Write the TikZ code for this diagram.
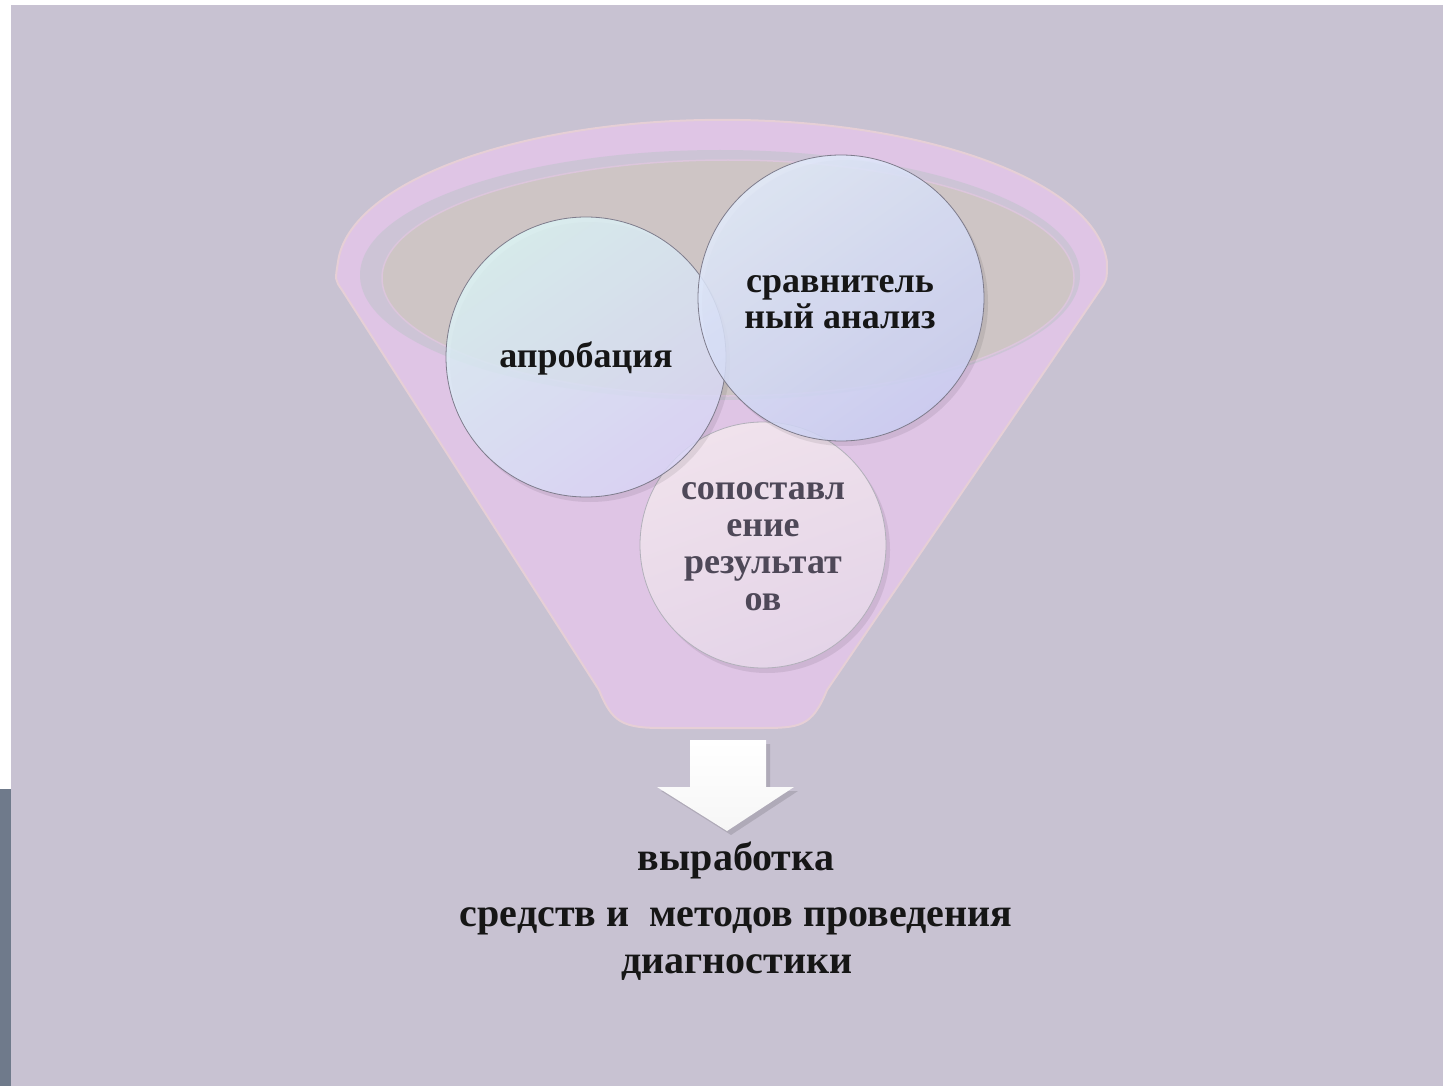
\documentclass[tikz,border=0pt]{standalone}
\usepackage{fontspec}
\setmainfont{Liberation Serif}
\definecolor{bg}{HTML}{C8C2D2}
\definecolor{strip}{HTML}{6F7A8B}
\definecolor{funnelfill}{HTML}{DFC5E5}
\definecolor{funneledge}{HTML}{E6CFD6}
\definecolor{ringgray}{HTML}{CDC4D6}
\definecolor{beige}{HTML}{CEC5C5}
\definecolor{ringpink}{HTML}{DCC6DC}
\definecolor{aprA}{HTML}{DCF6F6}
\definecolor{aprB}{HTML}{DCD8FA}
\definecolor{srvA}{HTML}{E2ECFC}
\definecolor{srvB}{HTML}{CCD0F4}
\definecolor{sopA}{HTML}{F0E2EC}
\definecolor{sopB}{HTML}{E4D4E8}
\definecolor{edge}{HTML}{7E7C8C}
\definecolor{txt}{HTML}{161616}
\definecolor{txtsop}{HTML}{4E4858}
\tikzset{
  ball/.style={circle, draw=edge, line width=0.8pt, inner sep=0pt, align=center,
    font=\fontsize{36}{36}\selectfont\bfseries, text=txt},
  balltext/.style={font=\fontsize{36}{36}\selectfont\bfseries, text=txt, inner sep=0pt, align=center},
  caption/.style={font=\fontsize{40}{46}\selectfont\bfseries, text=txt, inner sep=0pt, align=center},
  shadowball/.style={fill=black, opacity=0.08}
}
\begin{document}
\begin{tikzpicture}[x=1pt,y=-1pt]
\useasboundingbox (0,0) rectangle (1443,1086);
\fill[white] (0,0) rectangle (1443,1086);
\fill[bg] (11,5) rectangle (1443,1086);
\fill[strip] (0,789) rectangle (11,1086);

% funnel body
\path[fill=funnelfill, draw=funneledge, line width=2pt]
  (338,262) arc[start angle=183, end angle=357, x radius=385, y radius=150]
  .. controls (1107,280) .. (1100,290)
  -- (827,690) .. controls (812,727) and (800,728) .. (760,728)
  -- (662,728) .. controls (622,728) and (612,722) .. (599,690)
  -- (342,290) .. controls (335,280) .. (338,262) -- cycle;
% inner rim
\fill[ringgray] (720,275) ellipse[x radius=360, y radius=125];
\fill[beige, draw=ringpink, line width=1.5pt] (728,278) ellipse[x radius=346, y radius=118];

% bottom ball
\fill[shadowball] (767,550) circle (123);
\shade[top color=sopA, bottom color=sopB, shading angle=20] (763,545) circle (123);
\node[ball, minimum size=246pt, draw=edge!60] (sop) at (763,545) {};
\node[balltext, text=txtsop, font=\fontsize{36}{37}\selectfont\bfseries] (soptext) at (763,547)
  {сопоставл\\ение\\результат\\ов};

% left ball
\fill[shadowball] (590,362) circle (140);
\shade[top color=aprA, bottom color=aprB, shading angle=35, opacity=0.82] (586,357) circle (140);
\node[ball, minimum size=280pt] (apr) at (586,357) {};
% right ball
\fill[shadowball] (845,303) circle (143);
\shade[top color=srvA, bottom color=srvB, shading angle=35, opacity=0.85] (841,298) circle (143);
\node[ball, minimum size=286pt] (srv) at (841,298) {};
\node[balltext] (srvtext) at (840,302) {сравнитель\\ный анализ};
\node[balltext] (aprtext) at (586,358) {апробация};

% arrow
\fill[black, opacity=0.12] (694,744) -- (770,744) -- (770,791) -- (798,791) -- (731,835) -- (661,791) -- (694,791) -- cycle;
\shade[top color=white, bottom color=white!93!gray] (690,740) -- (766,740) -- (766,787) -- (794,787) -- (727,831) -- (657,787) -- (690,787) -- cycle;
\coordinate (arrowtip) at (727,831);

% captions
\node[caption] (c1) at (736,860) {выработка};
\node[caption] (c2) at (736,921) {средств и\ \ методов проведения};
\node[caption] (c3) at (737,968) {диагностики};
\end{tikzpicture}
\end{document}
